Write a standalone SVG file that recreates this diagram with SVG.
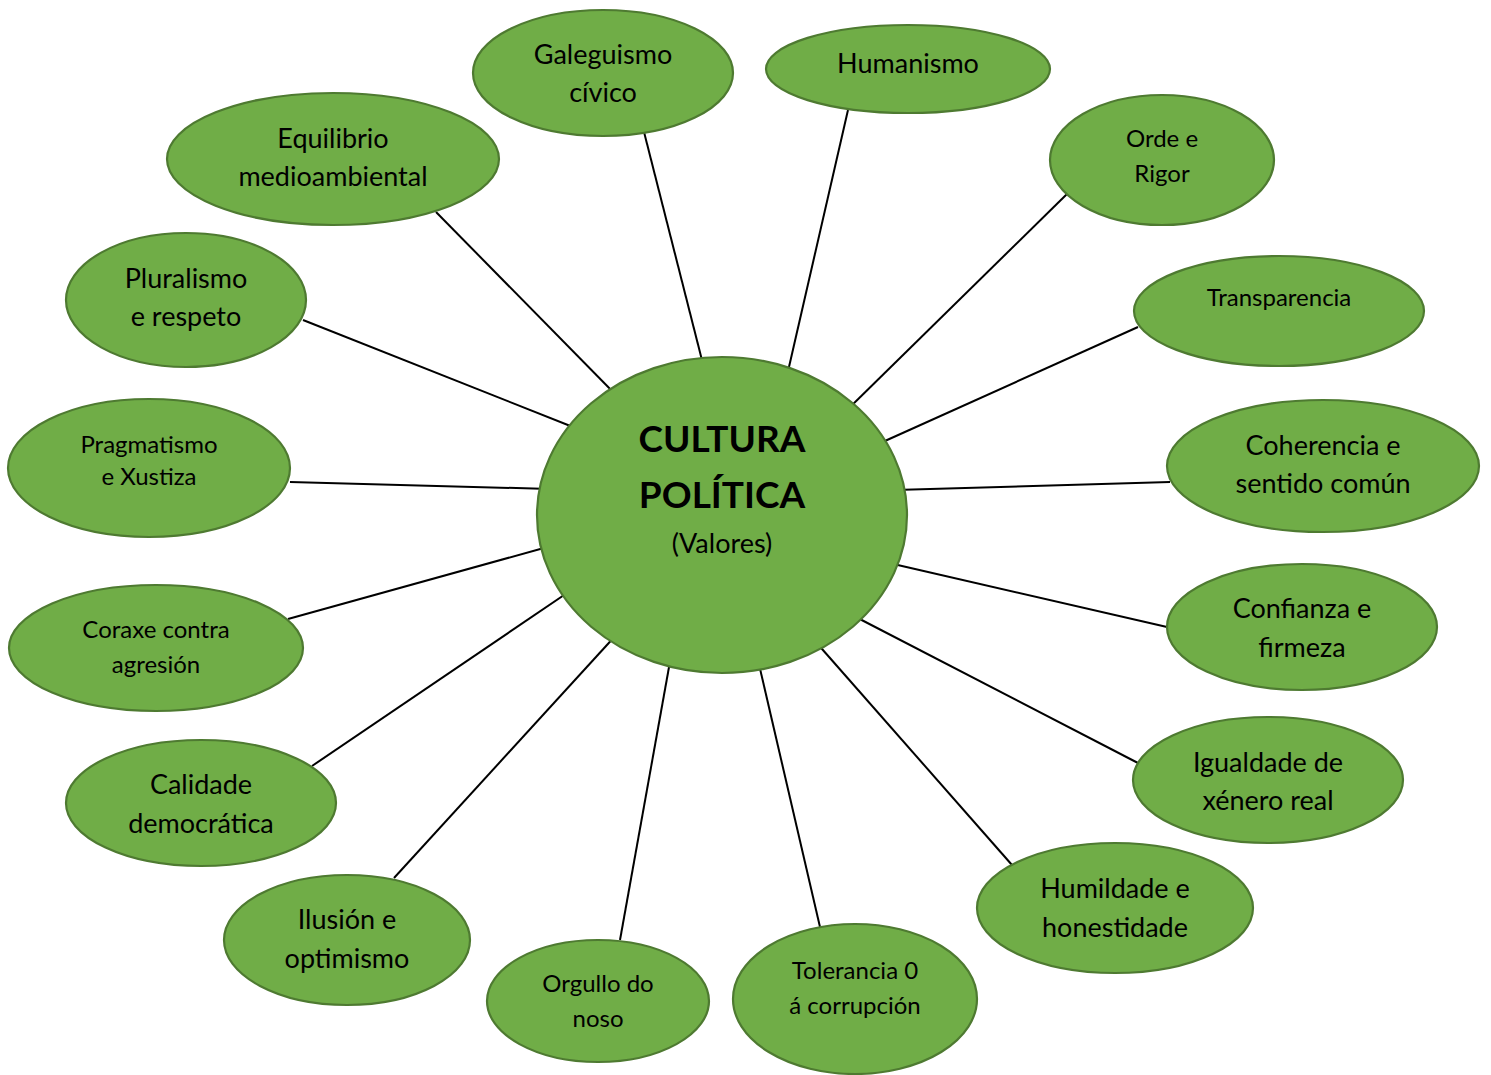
<svg xmlns="http://www.w3.org/2000/svg" width="1491" height="1075" viewBox="0 0 1491 1075">
<style>
.n{fill:#70AD47;stroke:#4E7A31;stroke-width:2.2}
.c line{stroke:#000;stroke-width:2}
text{font-family:Lato,"Open Sans","Liberation Sans",sans-serif;fill:#000;text-anchor:middle}
.l{font-size:27px}
.s{font-size:24px}
.b{font-size:37px;font-weight:bold}
</style>
<rect width="1491" height="1075" fill="#fff"/>
<g id="connectors" class="c">
<line x1="643" y1="128" x2="705" y2="372"/>
<line x1="848" y1="110" x2="786" y2="380"/>
<line x1="1067" y1="194" x2="845" y2="412"/>
<line x1="1138" y1="327" x2="876" y2="445"/>
<line x1="1170" y1="482" x2="895" y2="490"/>
<line x1="1167" y1="627" x2="889" y2="563"/>
<line x1="1138" y1="763" x2="852" y2="615"/>
<line x1="1012" y1="865" x2="815" y2="641"/>
<line x1="820" y1="927" x2="758" y2="660"/>
<line x1="620" y1="940" x2="671" y2="656"/>
<line x1="394" y1="878" x2="617" y2="634"/>
<line x1="312" y1="766" x2="570" y2="591"/>
<line x1="288" y1="619" x2="551" y2="546"/>
<line x1="290" y1="482" x2="550" y2="489"/>
<line x1="303" y1="320" x2="578" y2="429"/>
<line x1="436" y1="212" x2="617" y2="396"/>
</g>
<g id="center"><ellipse class="n" cx="722" cy="515" rx="185" ry="158"/>
<text class="b" x="722" y="452">CULTURA</text><text class="b" x="722" y="508">POLÍTICA</text><text class="l" x="722" y="553">(Valores)</text></g>
<g id="n1"><ellipse class="n" cx="603" cy="73" rx="130" ry="63"/><text class="l" x="603" y="64">Galeguismo</text><text class="l" x="603" y="102">cívico</text></g>
<g id="n2"><ellipse class="n" cx="908" cy="69" rx="142" ry="44"/><text class="l" x="908" y="73">Humanismo</text></g>
<g id="n3"><ellipse class="n" cx="1162" cy="160" rx="112" ry="65"/><text class="s" x="1162" y="147">Orde e</text><text class="s" x="1162" y="182">Rigor</text></g>
<g id="n4"><ellipse class="n" cx="1279" cy="311" rx="145" ry="55"/><text class="s" x="1279" y="306">Transparencia</text></g>
<g id="n5"><ellipse class="n" cx="1323" cy="466" rx="156" ry="66"/><text class="l" x="1323" y="455">Coherencia e</text><text class="l" x="1323" y="493">sentido común</text></g>
<g id="n6"><ellipse class="n" cx="1302" cy="627" rx="135" ry="63"/><text class="l" x="1302" y="618">Confianza e</text><text class="l" x="1302" y="657">firmeza</text></g>
<g id="n7"><ellipse class="n" cx="1268" cy="780" rx="135" ry="63"/><text class="l" x="1268" y="772">Igualdade de</text><text class="l" x="1268" y="810">xénero real</text></g>
<g id="n8"><ellipse class="n" cx="1115" cy="908" rx="138" ry="65"/><text class="l" x="1115" y="898">Humildade e</text><text class="l" x="1115" y="937">honestidade</text></g>
<g id="n9"><ellipse class="n" cx="855" cy="999" rx="122" ry="75"/><text class="s" x="855" y="979">Tolerancia 0</text><text class="s" x="855" y="1014">á corrupción</text></g>
<g id="n10"><ellipse class="n" cx="598" cy="1001" rx="111" ry="61"/><text class="s" x="598" y="992">Orgullo do</text><text class="s" x="598" y="1027">noso</text></g>
<g id="n11"><ellipse class="n" cx="347" cy="940" rx="123" ry="65"/><text class="l" x="347" y="929">Ilusión e</text><text class="l" x="347" y="968">optimismo</text></g>
<g id="n12"><ellipse class="n" cx="201" cy="803" rx="135" ry="63"/><text class="l" x="201" y="794">Calidade</text><text class="l" x="201" y="833">democrática</text></g>
<g id="n13"><ellipse class="n" cx="156" cy="648" rx="147" ry="63"/><text class="s" x="156" y="638">Coraxe contra</text><text class="s" x="156" y="673">agresión</text></g>
<g id="n14"><ellipse class="n" cx="149" cy="468" rx="141" ry="69"/><text class="s" x="149" y="453">Pragmatismo</text><text class="s" x="149" y="485">e Xustiza</text></g>
<g id="n15"><ellipse class="n" cx="186" cy="300" rx="120" ry="67"/><text class="l" x="186" y="288">Pluralismo</text><text class="l" x="186" y="326">e respeto</text></g>
<g id="n16"><ellipse class="n" cx="333" cy="159" rx="166" ry="66"/><text class="l" x="333" y="148">Equilibrio</text><text class="l" x="333" y="186">medioambiental</text></g>
</svg>
